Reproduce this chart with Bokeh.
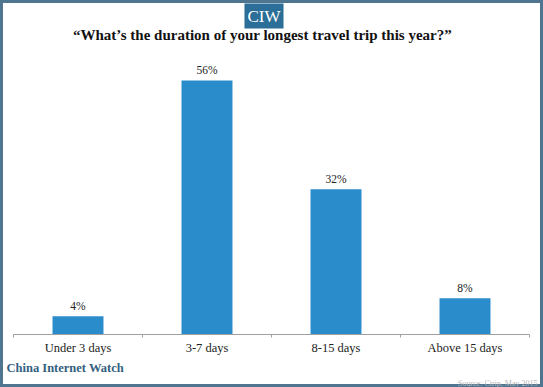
from bokeh.plotting import figure
from bokeh.models import Range1d, FixedTicker, Label, LabelSet, ColumnDataSource, Title
from bokeh.core.properties import value
from bokeh.embed import file_html
from bokeh.resources import INLINE

categories = ["Under 3 days", "3-7 days", "8-15 days", "Above 15 days"]
shares = [4, 56, 32, 8]
share_labels = ["4%", "56%", "32%", "8%"]
title_text = "\u201cWhat\u2019s the duration of your longest travel trip this year?\u201d"
brand = "CIW"
footer_left = "China Internet Watch"
footer_right = "Source: Ctrip, May 2015"

W, H = 543, 387
SERIF = "'Liberation Serif'"
FL, FB = 13, 53  # frame left / bottom borders
FH = H - FB      # frame height (frame starts at canvas top)

xs = [i + 0.5 for i in range(len(categories))]
src = ColumnDataSource(dict(x=xs, top=shares, lab=share_labels))

p = figure(width=W, height=H, output_backend="svg", toolbar_location=None,
           x_range=Range1d(0, len(categories)), y_range=Range1d(0, FH / 4.536),
           min_border_left=FL, min_border_right=14, min_border_top=0, min_border_bottom=FB)
p.outline_line_color = None
p.xgrid.visible = False
p.ygrid.visible = False
p.yaxis.visible = False
p.border_fill_alpha = 0
p.background_fill_alpha = 0
p.styles = {"box-shadow": "inset 0 0 0 3px #4f7590"}

p.vbar(x="x", top="top", bottom=0, width=0.395, source=src,
       fill_color="#2b8ccb", line_color=None)

p.add_layout(LabelSet(x="x", y="top", text="lab", source=src, text_align="center",
                      text_baseline="bottom", y_offset=4, text_font=value(SERIF),
                      text_font_size="11.5px", text_color="#222222"))

ax = p.xaxis[0]
ax.ticker = FixedTicker(ticks=xs, minor_ticks=list(range(len(categories) + 1)))
ax.major_label_overrides = {x: c for x, c in zip(xs, categories)}
ax.major_tick_line_color = None
ax.major_tick_in = 0
ax.major_tick_out = 0
ax.minor_tick_in = 0
ax.minor_tick_out = 3
ax.minor_tick_line_color = "#a0a0a0"
ax.axis_line_color = "#a0a0a0"
ax.major_label_standoff = 3
ax.major_label_text_font = SERIF
ax.major_label_text_font_size = "12.5px"
ax.major_label_text_color = "#222222"

def lab(x, ytop, text, **kw):
    # x, ytop in canvas pixels from top-left; screen units are frame-relative
    p.add_layout(Label(x=x - FL, y=FH - ytop, x_units="screen", y_units="screen",
                       text=text, text_baseline="top", text_font=SERIF, **kw))

lab(263.5, 3, brand, text_align="center", text_font_size="17px", text_color="white",
    background_fill_color="#2b6e97", padding=3)
lab(262, 26, title_text, text_align="center", text_font_style="bold",
    text_font_size="15px", text_color="#111111")

p.add_layout(Title(text=footer_left, align="left", offset=-7, standoff=3,
                   text_font=SERIF, text_font_style="bold", text_font_size="12.5px",
                   text_color="#33607f"), "below")
p.add_layout(Title(text=footer_right, align="right", offset=-8, standoff=0,
                   text_font=SERIF, text_font_style="normal", text_font_size="8px",
                   text_color="#b8b8b8"), "below")

open("out.html", "w").write(file_html(p, INLINE))
